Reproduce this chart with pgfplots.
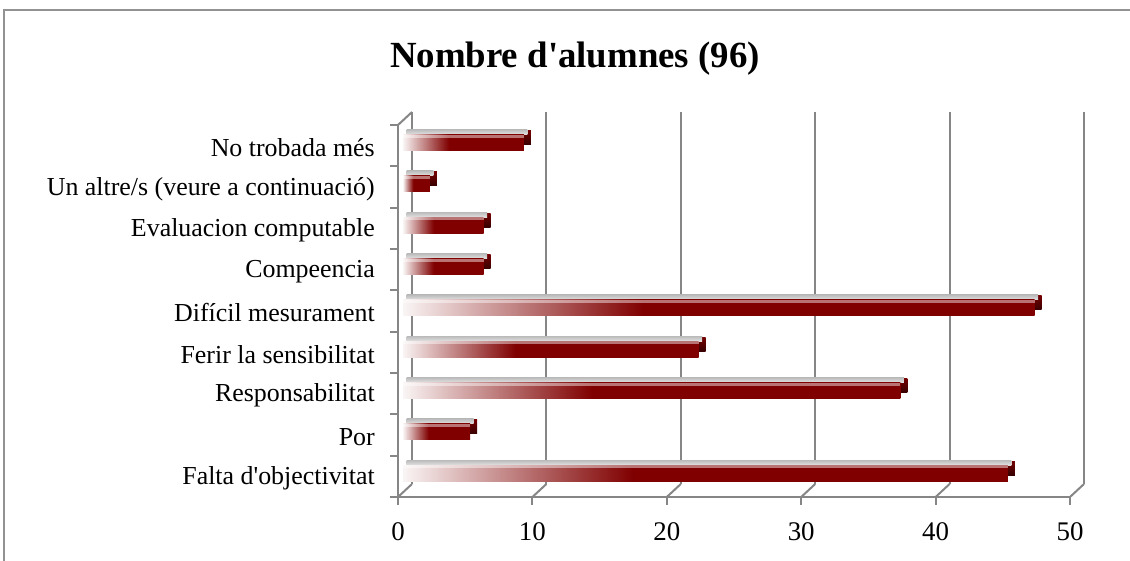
\documentclass[border=0pt]{standalone}
\usepackage{pgfplots}
\pgfplotsset{compat=1.18}
\usepackage{fontspec}
\setmainfont{Liberation Serif}
\definecolor{barred}{RGB}{128,0,0}
\definecolor{sidetop}{RGB}{115,0,0}
\definecolor{sidebot}{RGB}{55,0,0}
\definecolor{axgray}{RGB}{134,134,134}
\pgfdeclarehorizontalshading{barshade}{100bp}{color(0bp)=(white); color(25bp)=(white!96!barred); color(44bp)=(barred); color(100bp)=(barred)}

% one 3D-looking bar: #1 = category position, #2 = value
\newcommand\threedbar[2]{%
  \addplot[xbar, bar width=14bp, bar shift=8bp, xshift=12bp, draw=none, top color=sidetop, bottom color=sidebot]
    coordinates {(#2,#1)};
  \addplot[xbar, bar width=5bp, bar shift=13.5bp, xshift=8.5bp, draw=none, top color=gray!52, bottom color=gray!22]
    coordinates {(#2,#1)};
  \addplot[xbar, bar width=16bp, bar shift=3bp, xshift=5bp, draw=none, shade, shading=barshade]
    coordinates {(#2,#1)};
  \addplot[xbar, bar width=3bp, bar shift=9.5bp, xshift=5bp, draw=none, fill=white, fill opacity=0.45]
    coordinates {(#2,#1)};
}

\begin{document}
\begin{tikzpicture}[x=1bp,y=1bp]
\useasboundingbox (0,0) rectangle (1130,561);
\draw[axgray!90, line width=1.3bp] (4,0) -- (4,551) -- (1131,551);
\node[font=\fontsize{37}{40}\selectfont\bfseries] at (575,502) {Nombre d\textquotesingle alumnes (96)};
\begin{axis}[
  at={(398bp,64bp)}, anchor=south west,
  scale only axis, width=672bp, height=372bp,
  xmin=0, xmax=50, ymin=-0.5, ymax=8.5,
  clip=false,
  axis x line*=bottom, axis y line*=left,
  axis line style={axgray, line width=2bp, -},
  xtick={0,10,...,50},
  ytick={0,...,8},
  yticklabels={Falta d\textquotesingle objectivitat, Por, Responsabilitat, Ferir la sensibilitat, Difícil mesurament, Compeencia, Evaluacion computable, {Un altre/s (veure a continuació)}, No trobada més},
  tick align=outside, major tick length=8bp,
  x tick style={axgray, line width=2bp},
  y tick style={draw=none},
  /pgf/number format/assume math mode=true,
  xticklabel style={font=\fontsize{27}{30}\selectfont, inner sep=0pt, yshift=-17bp},
  yticklabel style={font=\fontsize{26}{30}\selectfont, inner sep=0pt, anchor=east, xshift=-15bp, yshift=-2bp},
]
% 3D back wall gridlines and floor diagonals
\pgfplotsinvokeforeach{0,10,20,30,40,50}{
  \draw[axgray, line width=2bp] ([shift={(14bp,13bp)}]axis cs:#1,-0.5) -- ([shift={(14bp,13bp)}]axis cs:#1,8.5);
  \draw[axgray, line width=2bp] (axis cs:#1,-0.5) -- ([shift={(14bp,13bp)}]axis cs:#1,-0.5);
}
\draw[axgray, line width=2bp] (axis cs:0,8.5) -- ([shift={(14bp,13bp)}]axis cs:0,8.5);
\pgfplotsinvokeforeach{-0.5,0.5,1.5,2.5,3.5,4.5,5.5,6.5,7.5,8.5}{
  \draw[axgray, line width=2bp] (axis cs:0,#1) -- ++(-8bp,0bp);
}
\threedbar{0}{45}
\threedbar{1}{5}
\threedbar{2}{37}
\threedbar{3}{22}
\threedbar{4}{47}
\threedbar{5}{6}
\threedbar{6}{6}
\threedbar{7}{2}
\threedbar{8}{9}
\end{axis}
\end{tikzpicture}
\end{document}
